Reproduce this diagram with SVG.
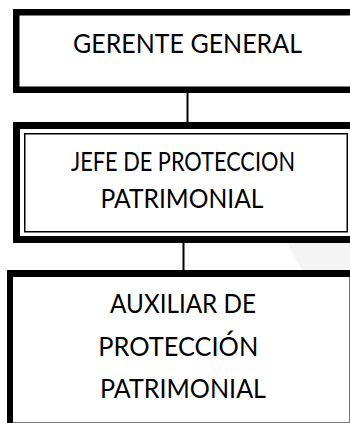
<svg xmlns="http://www.w3.org/2000/svg" width="350" height="423" viewBox="0 0 350 423">
<style>
.lbl{font-family:Lato,"Open Sans","Liberation Sans",sans-serif;font-size:26.5px;fill:#000;text-anchor:middle}
.thick{fill:none;stroke:#000}
.conn{stroke:#000;stroke-width:2}
</style>
<rect width="350" height="423" fill="#fff"/>
<polygon points="287,243 302,270 350,270 350,243" fill="#f4f4f4"/>
<g id="connectors">
<line class="conn" x1="187.5" y1="93" x2="187.5" y2="122"/>
<line class="conn" x1="183.5" y1="243" x2="183.5" y2="270"/>
</g>
<g id="gerente">
<rect class="thick" x="16.25" y="12.25" width="360" height="77.5" stroke-width="6.5"/>
<text class="lbl" x="187.5" y="53.3" textLength="229" lengthAdjust="spacingAndGlyphs">GERENTE GENERAL</text>
</g>
<g id="jefe">
<rect class="thick" x="16.5" y="125.5" width="360" height="114" stroke-width="7"/>
<rect class="thick" x="24.75" y="133.75" width="322.5" height="98" stroke-width="1.5"/>
<text class="lbl" x="183" y="171" textLength="224" lengthAdjust="spacingAndGlyphs">JEFE DE PROTECCION</text>
<text class="lbl" x="182" y="208.3" textLength="163" lengthAdjust="spacingAndGlyphs">PATRIMONIAL</text>
</g>
<g id="auxiliar">
<rect x="7" y="270" width="343" height="7" fill="#000"/>
<rect x="7" y="270" width="6" height="153" fill="#000"/>
<line x1="349.5" y1="277" x2="349.5" y2="423" stroke="#777" stroke-width="1"/>
<line x1="13" y1="422.5" x2="350" y2="422.5" stroke="#777" stroke-width="1"/>
<text class="lbl" x="183" y="313.3" textLength="146" lengthAdjust="spacingAndGlyphs">AUXILIAR DE</text>
<text class="lbl" x="178.3" y="356" textLength="160" lengthAdjust="spacingAndGlyphs">PROTECCIÓN</text>
<text class="lbl" x="183" y="398.3" textLength="166" lengthAdjust="spacingAndGlyphs">PATRIMONIAL</text>
</g>
</svg>
